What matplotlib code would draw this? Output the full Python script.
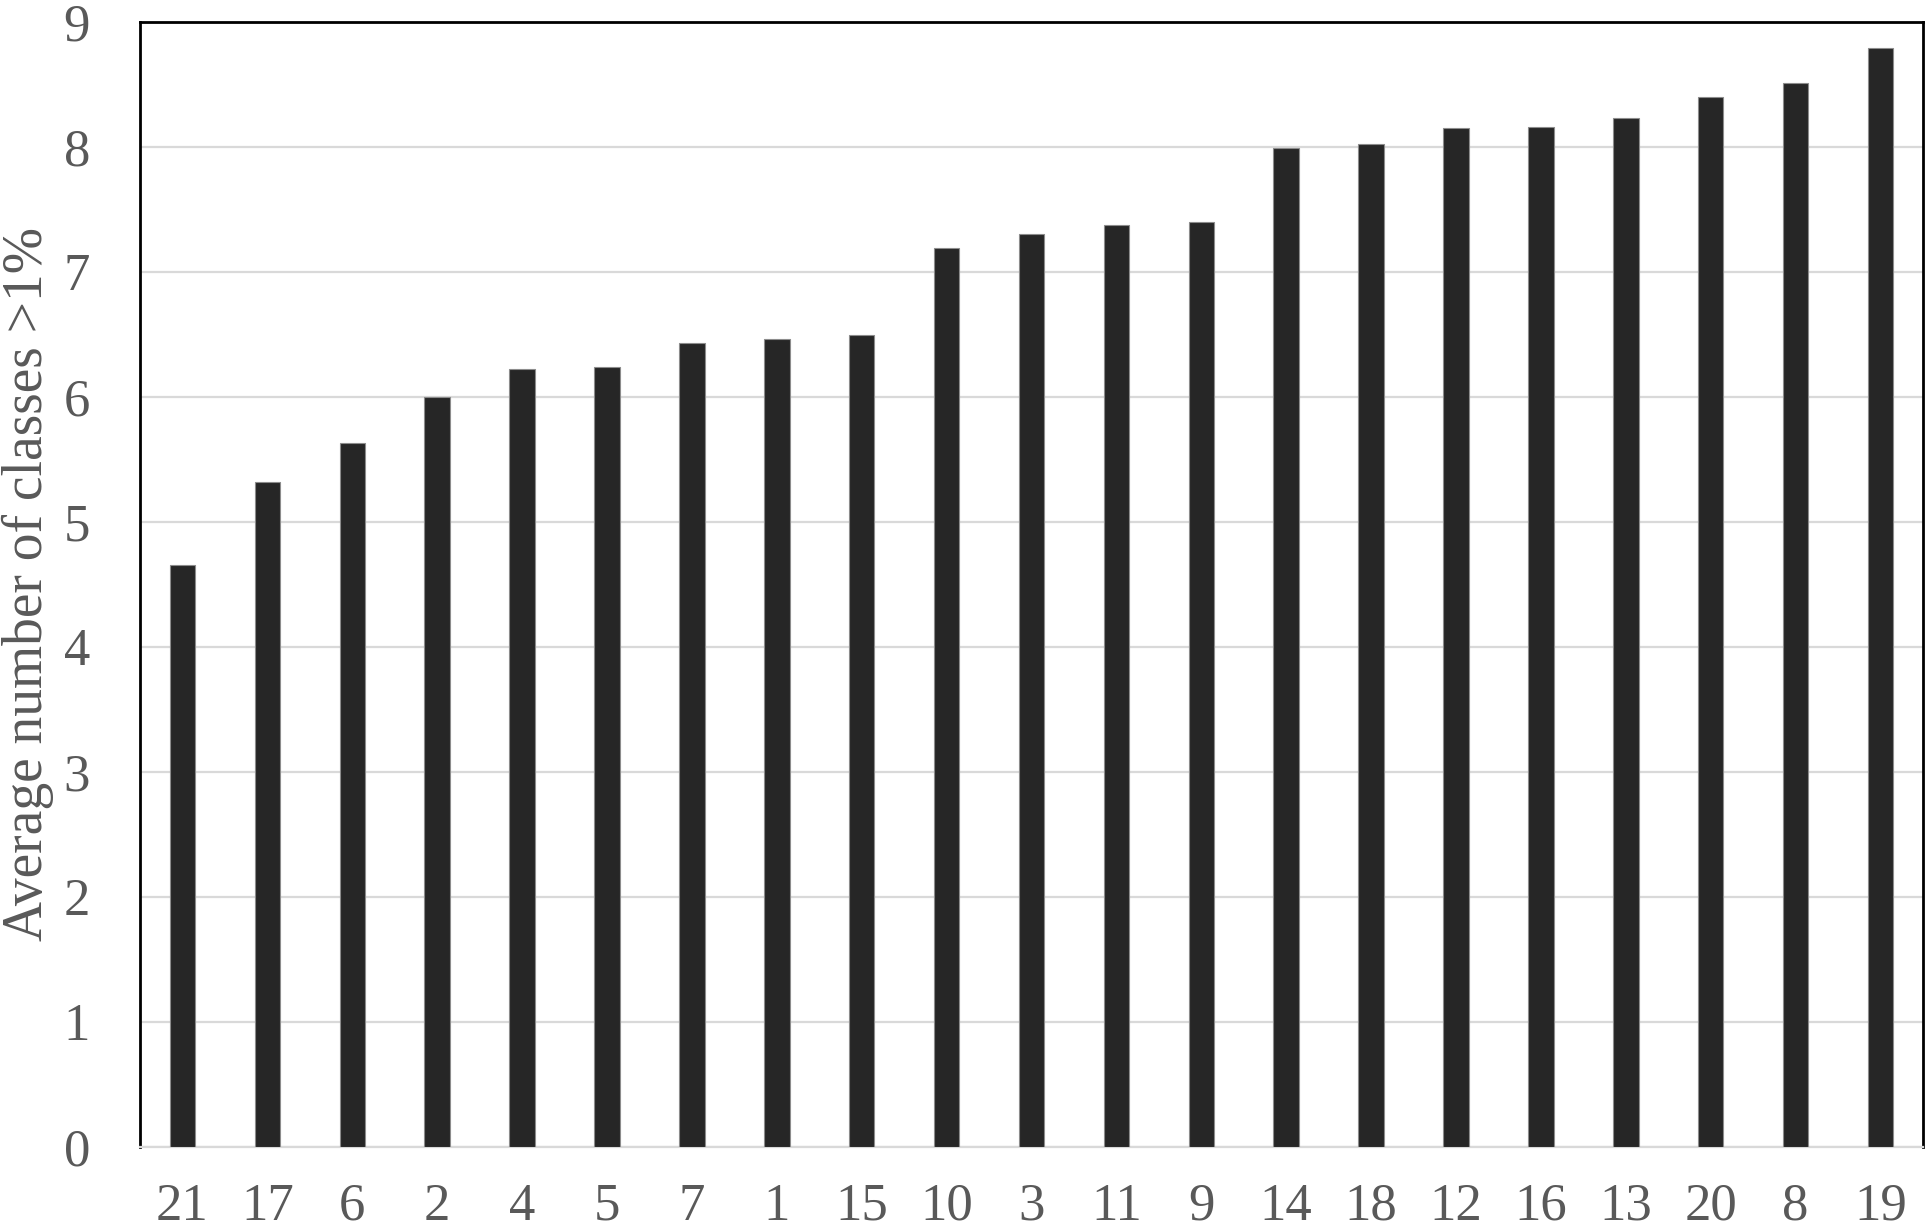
import matplotlib
matplotlib.use("Agg")
import matplotlib.pyplot as plt

categories = ["21", "17", "6", "2", "4", "5", "7", "1", "15", "10", "3",
              "11", "9", "14", "18", "12", "16", "13", "20", "8", "19"]
values = [4.65, 5.32, 5.63, 6.00, 6.22, 6.24, 6.43, 6.46, 6.49, 7.19, 7.30,
          7.37, 7.40, 7.99, 8.02, 8.15, 8.16, 8.23, 8.40, 8.51, 8.79]
yticks = list(range(0, 10))

plt.rcParams['font.family'] = ['Liberation Serif', 'DejaVu Serif']

fig = plt.figure(figsize=(19.26, 12.29), dpi=100)
ax = fig.add_axes([0.0727, 0.067, 0.9257, 0.9153])

x = list(range(len(categories)))
ax.bar(x, values, width=0.30, color="#262626", edgecolor="#8c8c8c",
       linewidth=0.8, zorder=3)

ax.set_xlim(-0.5, len(categories) - 0.5)
ax.set_ylim(0, 9)
ax.set_yticks(yticks)
ax.set_yticklabels([str(t) for t in yticks])
ax.set_xticks(x)
ax.set_xticklabels(categories)

ax.yaxis.grid(True, color="#d9d9d9", linewidth=1.6, zorder=0)
ax.set_axisbelow(True)

for s in ["left", "top", "right"]:
    ax.spines[s].set_color("black")
    ax.spines[s].set_linewidth(2.0)
ax.spines["bottom"].set_color("#d9d9d9")
ax.spines["bottom"].set_linewidth(1.6)

ax.tick_params(axis="both", length=0, labelsize=38, colors="#595959")
ax.tick_params(axis="y", pad=36)
ax.tick_params(axis="x", pad=26)

fig.text(0.001, 0.067 + 0.9153 / 2, "Average number of classes >1%",
         rotation=90, ha="left", va="center", fontsize=40, color="#595959")

fig.savefig("out.png", dpi=100)
